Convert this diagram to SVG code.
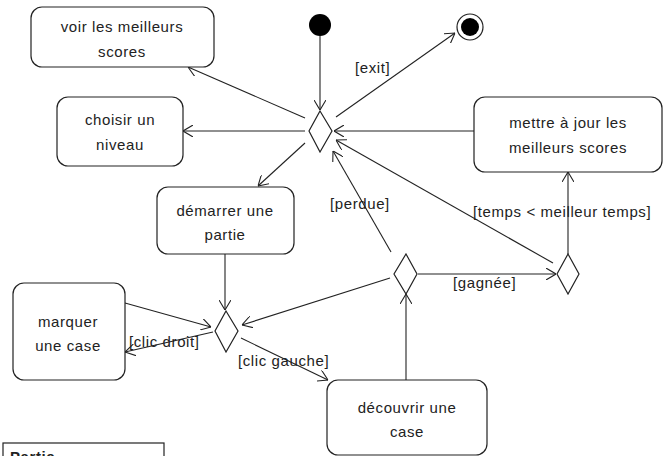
<svg xmlns="http://www.w3.org/2000/svg" width="667" height="456" viewBox="0 0 667 456">
<style>
.box{fill:#fff;stroke:#222;stroke-width:1.2}
.dia{fill:#fff;stroke:#222;stroke-width:1.2}
.t{font-family:"Liberation Sans",Arial,sans-serif;font-size:15px;fill:#222;letter-spacing:0.6px}
.c{text-anchor:middle}
.e{fill:none;stroke:#222;stroke-width:1.1;marker-end:url(#ah)}
</style>
<defs>
<marker id="ah" viewBox="0 0 10 12" refX="10" refY="6" markerWidth="10" markerHeight="12" markerUnits="userSpaceOnUse" orient="auto">
<path d="M0,0 L10,6 L0,12" fill="none" stroke="#222" stroke-width="1.1"/>
</marker>
</defs>
<rect width="667" height="456" fill="#fff"/>
<g id="connectors">
<line class="e" x1="320" y1="36" x2="320" y2="110"/>
<line class="e" x1="336" y1="117" x2="455" y2="33"/>
<line class="e" x1="305" y1="118" x2="188" y2="67"/>
<line class="e" x1="305" y1="131" x2="183" y2="131"/>
<line class="e" x1="305" y1="143" x2="258" y2="186"/>
<line class="e" x1="474" y1="131" x2="334" y2="131"/>
<line class="e" x1="553" y1="263" x2="336" y2="140"/>
<line class="e" x1="391" y1="252" x2="333" y2="151"/>
<line class="e" x1="225" y1="254" x2="225" y2="310"/>
<line class="e" x1="125" y1="303" x2="211" y2="327"/>
<line class="e" x1="213" y1="332" x2="125" y2="352"/>
<line class="e" x1="241" y1="338" x2="328" y2="380"/>
<line class="e" x1="390" y1="278" x2="242" y2="325"/>
<line class="e" x1="406" y1="380" x2="406" y2="294"/>
<line class="e" x1="418" y1="274" x2="556" y2="274"/>
<line class="e" x1="568" y1="254" x2="568" y2="172"/>
<text class="t" x="355" y="73">[exit]</text>
<text class="t" x="330" y="209">[perdue]</text>
<text class="t" x="473" y="217">[temps &lt; meilleur temps]</text>
<text class="t" x="453" y="288">[gagnée]</text>
<text class="t" x="129" y="347">[clic droit]</text>
<text class="t" x="238" y="366">[clic gauche]</text>
</g>
<g id="start"><circle cx="320" cy="25" r="11" fill="#000"/></g>
<g id="end"><circle cx="470" cy="27" r="13" fill="#fff" stroke="#222" stroke-width="1.2"/><circle cx="470" cy="27" r="9" fill="#000"/></g>
<g id="d1"><polygon class="dia" points="320,111 332,131 320,152 309,131"/></g>
<g id="d2"><polygon class="dia" points="226,311 238,331 226,352 215,331"/></g>
<g id="d3"><polygon class="dia" points="406,254 417,274 406,294 394,274"/></g>
<g id="d4"><polygon class="dia" points="568,254 579,274 568,294 557,274"/></g>
<g id="voir"><rect class="box" x="31" y="7" width="183" height="60" rx="11"/><text class="t c" x="122" y="32">voir les meilleurs</text><text class="t c" x="122" y="57">scores</text></g>
<g id="choisir"><rect class="box" x="57" y="97" width="126" height="69" rx="11"/><text class="t c" x="120" y="125">choisir un</text><text class="t c" x="120" y="150">niveau</text></g>
<g id="demarrer"><rect class="box" x="157" y="187" width="137" height="67" rx="11"/><text class="t c" x="225" y="216">démarrer une</text><text class="t c" x="225" y="240">partie</text></g>
<g id="marquer"><rect class="box" x="13" y="283" width="112" height="97" rx="11"/><text class="t c" x="68" y="327">marquer</text><text class="t c" x="68" y="351">une case</text></g>
<g id="decouvrir"><rect class="box" x="327" y="380" width="160" height="75" rx="11"/><text class="t c" x="407" y="413">découvrir une</text><text class="t c" x="407" y="437">case</text></g>
<g id="mettre"><rect class="box" x="474" y="97" width="188" height="75" rx="11"/><text class="t c" x="568" y="128">mettre à jour les</text><text class="t c" x="568" y="153">meilleurs scores</text></g>
<g id="partie"><rect x="3" y="443" width="161" height="30" fill="#fff" stroke="#222" stroke-width="1.2"/><text class="t" x="10" y="462" style="font-weight:bold">Partie</text></g>
</svg>
